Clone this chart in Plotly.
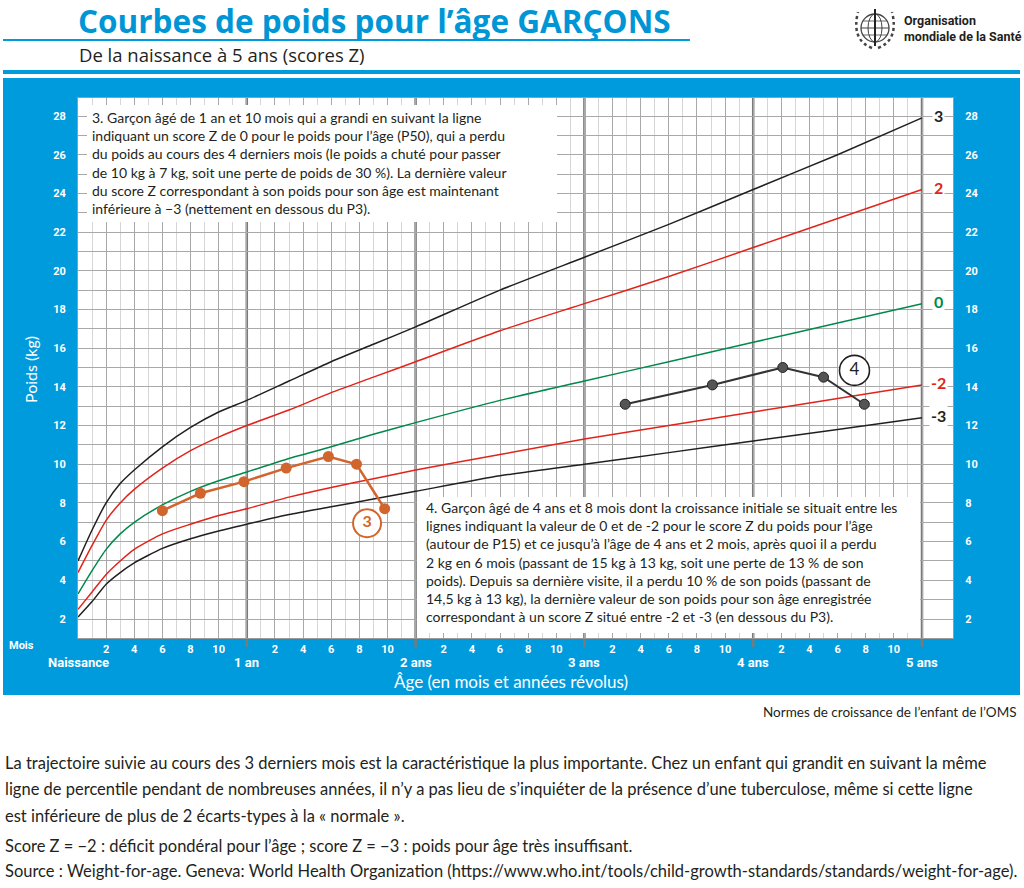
import plotly.graph_objects as go

# ---------------- data ----------------
months = [0, 1, 2, 3, 4, 6, 8, 10, 12, 15, 18, 21, 24, 30, 36, 42, 48, 54, 60]
z_m3 = [2.1, 2.9, 3.8, 4.4, 4.9, 5.65, 6.15, 6.55, 6.9, 7.4, 7.8, 8.2, 8.6, 9.4, 10.0, 10.6, 11.2, 11.8, 12.4]
z_m2 = [2.5, 3.4, 4.3, 5.0, 5.6, 6.4, 6.9, 7.35, 7.7, 8.3, 8.8, 9.25, 9.7, 10.5, 11.3, 12.0, 12.7, 13.4, 14.1]
z_0 = [3.3, 4.5, 5.6, 6.4, 7.0, 7.9, 8.6, 9.15, 9.6, 10.3, 10.9, 11.55, 12.15, 13.3, 14.3, 15.3, 16.3, 17.3, 18.3]
z_p2 = [4.4, 5.8, 7.1, 8.0, 8.7, 9.8, 10.7, 11.4, 12.0, 12.8, 13.7, 14.5, 15.3, 16.9, 18.3, 19.7, 21.2, 22.7, 24.2]
z_p3 = [5.0, 6.6, 8.0, 9.0, 9.7, 10.9, 11.9, 12.7, 13.3, 14.3, 15.3, 16.2, 17.1, 19.0, 20.7, 22.4, 24.2, 26.0, 27.9]
z_names = ["3", "2", "0", "-2", "-3"]

child3_age = [6, 8.7, 11.8, 14.8, 17.8, 19.8, 21.8]
child3_wt = [7.6, 8.5, 9.1, 9.8, 10.4, 10.0, 7.7]
child4_age = [38.9, 45.1, 50.1, 53.0, 55.9]
child4_wt = [13.1, 14.1, 15.0, 14.5, 13.1]

case_labels = ["3", "4"]
case_label_age = [20.55, 55.2]
case_label_wt = [6.95, 14.85]

year_vals = [0, 12, 24, 36, 48, 60]
year_text = ["Naissance", "1 an", "2 ans", "3 ans", "4 ans", "5 ans"]
month_tick_vals = list(range(0, 61, 2))
month_tick_text = ["" if m % 12 == 0 else str(m % 12) for m in month_tick_vals]
kg_tick_vals = list(range(2, 29, 2))
kg_tick_text = [str(v) for v in kg_tick_vals]

# ---------------- styling ----------------
BLUE = "#009BDD"
RED = "#E2231A"
GREEN = "#00894A"
BLACK = "#231F20"
ORANGE = "#D2652D"
DARK = "#333333"
BODY = "Lato, 'Open Sans', sans-serif"
NARROW = "'Liberation Sans Narrow', 'Arial Narrow', Roboto, sans-serif"

L, R, T, B = 78, 953, 98, 638
W, H = R - L, B - T
PX_PER_MONTH = (922 - 78) / 60.0
PX_PER_KG = (619 - 116) / 26.0


def px(x):
    return (x - L) / W


def py(y):
    return (B - y) / H


def dx(xp):
    return (xp - L) / PX_PER_MONTH


def dy(yp):
    return 28 - (yp - 116) / PX_PER_KG


x_range = [0, (R - L) / PX_PER_MONTH]
y_range = [dy(B), dy(T)]

fig = go.Figure()

curve_sets = [(z_p3, BLACK), (z_p2, RED), (z_0, GREEN), (z_m2, RED), (z_m3, BLACK)]
for i, (vals, col) in enumerate(curve_sets):
    fig.add_trace(go.Scatter(
        x=months, y=vals, mode="lines",
        line=dict(color=col, width=1.5, shape="spline", smoothing=0.6),
        yaxis="y2" if i == 0 else "y", hoverinfo="skip"))

fig.add_trace(go.Scatter(
    x=child3_age, y=child3_wt, mode="lines+markers",
    line=dict(color=ORANGE, width=2.5),
    marker=dict(color=ORANGE, size=11)))
fig.add_trace(go.Scatter(
    x=child4_age, y=child4_wt, mode="lines+markers",
    line=dict(color=DARK, width=2),
    marker=dict(color="#555555", size=10, line=dict(color="#222222", width=1))))

fig.add_trace(go.Scatter(
    x=case_label_age[:1], y=case_label_wt[:1], mode="markers+text",
    text=case_labels[:1], textposition="middle center",
    textfont=dict(family=BODY, size=16, color=ORANGE, weight="bold"),
    marker=dict(symbol="circle", size=28, color="white", line=dict(color=ORANGE, width=2))))
fig.add_trace(go.Scatter(
    x=case_label_age[1:], y=case_label_wt[1:], mode="markers+text",
    text=case_labels[1:], textposition="middle center",
    textfont=dict(family=BODY, size=17, color=BLACK),
    marker=dict(symbol="circle", size=30, color="white", line=dict(color=BLACK, width=1.6))))

shapes = []
# blue panel and white plot area
shapes.append(dict(type="rect", xref="paper", yref="paper", layer="below",
                   x0=px(3), x1=px(1020), y0=py(695), y1=py(78),
                   fillcolor=BLUE, line=dict(width=0)))
shapes.append(dict(type="rect", xref="paper", yref="paper", layer="below",
                   x0=0, x1=1, y0=0, y1=1, fillcolor="white", line=dict(width=0)))
# header rules
shapes.append(dict(type="line", xref="paper", yref="paper",
                   x0=px(3), x1=px(690), y0=py(40), y1=py(40),
                   line=dict(color=BLUE, width=2)))
shapes.append(dict(type="line", xref="paper", yref="paper",
                   x0=px(3), x1=px(1020), y0=py(72), y1=py(72),
                   line=dict(color=BLUE, width=4)))
# year lines
for yv in year_vals[1:]:
    shapes.append(dict(type="line", xref="x", yref="paper", layer="between",
                       x0=yv, x1=yv, y0=py(647), y1=1,
                       line=dict(color="#7A7A7A", width=2.5)))
# white text boxes (drawn over the grid, under the curves)
shapes.append(dict(type="rect", xref="x", yref="y", layer="between",
                   x0=dx(87), x1=dx(557), y0=dy(222), y1=dy(105),
                   fillcolor="white", line=dict(width=0)))
shapes.append(dict(type="rect", xref="x", yref="y", layer="between",
                   x0=dx(417), x1=dx(920), y0=dy(633), y1=dy(497),
                   fillcolor="white", line=dict(width=0)))
# WHO emblem (simplified globe, staff and laurels)
EMB = "#444444"
shapes.append(dict(type="circle", xref="paper", yref="paper",
                   x0=px(861), x1=px(889), y0=py(42), y1=py(14),
                   line=dict(color=EMB, width=1.3)))
shapes.append(dict(type="circle", xref="paper", yref="paper",
                   x0=px(868), x1=px(882), y0=py(42), y1=py(14),
                   line=dict(color=EMB, width=1)))
shapes.append(dict(type="line", xref="paper", yref="paper",
                   x0=px(861), x1=px(889), y0=py(28), y1=py(28),
                   line=dict(color=EMB, width=1)))
shapes.append(dict(type="line", xref="paper", yref="paper",
                   x0=px(863), x1=px(887), y0=py(21), y1=py(21),
                   line=dict(color=EMB, width=0.8)))
shapes.append(dict(type="line", xref="paper", yref="paper",
                   x0=px(863), x1=px(887), y0=py(35), y1=py(35),
                   line=dict(color=EMB, width=0.8)))
shapes.append(dict(type="line", xref="paper", yref="paper",
                   x0=px(875), x1=px(875), y0=py(46), y1=py(9),
                   line=dict(color="#222222", width=2)))
for side in (-1, 1):
    shapes.append(dict(type="path", xref="paper", yref="paper",
                       path="M %.5f %.5f Q %.5f %.5f %.5f %.5f" % (
                           px(875 + side * 3), py(48),
                           px(875 + side * 24), py(40),
                           px(875 + side * 17), py(12)),
                       line=dict(color=EMB, width=2.5, dash="dot")))

ann = []
# z-score labels at right
z_end = [z_p3[-1], z_p2[-1], z_0[-1], z_m2[-1], z_m3[-1]]
z_cols = [BLACK, RED, GREEN, RED, BLACK]
for name, yv, col in zip(z_names, z_end, z_cols):
    ann.append(dict(x=61.2, y=yv, xref="x", yref="y", text=name, showarrow=False,
                    font=dict(family=BODY, size=16, color=col, weight="bold"),
                    bgcolor="white", yshift=2, xanchor="center"))
# year labels
for yv, tx in zip(year_vals, year_text):
    ann.append(dict(x=yv, y=py(662), xref="x", yref="paper", text=tx, showarrow=False,
                    font=dict(family=NARROW, size=13, color="white", weight="bold"),
                    xanchor="center", yanchor="middle"))

box3 = ("3. Garçon âgé de 1 an et 10 mois qui a grandi en suivant la ligne<br>"
        "indiquant un score Z de 0 pour le poids pour l’âge (P50), qui a perdu<br>"
        "du poids au cours des 4 derniers mois (le poids a chuté pour passer<br>"
        "de 10 kg à 7 kg, soit une perte de poids de 30 %). La dernière valeur<br>"
        "du score Z correspondant à son poids pour son âge est maintenant<br>"
        "inférieure à −3 (nettement en dessous du P3).")
box4 = ("4. Garçon âgé de 4 ans et 8 mois dont la croissance initiale se situait entre les<br>"
        "lignes indiquant la valeur de 0 et de -2 pour le score Z du poids pour l’âge<br>"
        "(autour de P15) et ce jusqu’à l’âge de 4 ans et 2 mois, après quoi il a perdu<br>"
        "2 kg en 6 mois (passant de 15 kg à 13 kg, soit une perte de 13 % de son<br>"
        "poids). Depuis sa dernière visite, il a perdu 10 % de son poids (passant de<br>"
        "14,5 kg à 13 kg), la dernière valeur de son poids pour son âge enregistrée<br>"
        "correspondant à un score Z situé entre -2 et -3 (en dessous du P3).")
ann.append(dict(x=px(90), y=py(107), xref="paper", yref="paper", text=box3, showarrow=False,
                align="left", xanchor="left", yanchor="top",
                font=dict(family=BODY, size=14, color=BLACK)))
ann.append(dict(x=px(424), y=py(497), xref="paper", yref="paper", text=box4, showarrow=False,
                align="left", xanchor="left", yanchor="top",
                font=dict(family=BODY, size=14, color=BLACK)))

# axis texts
ann.append(dict(x=px(21), y=py(645), xref="paper", yref="paper", text="Mois", showarrow=False,
                font=dict(family=NARROW, size=11, color="white", weight="bold"),
                xanchor="center", yanchor="middle"))
ann.append(dict(x=px(30), y=py(370), xref="paper", yref="paper", text="Poids (kg)", showarrow=False,
                textangle=-90, font=dict(family=BODY, size=16, color="white"),
                xanchor="center", yanchor="middle"))
ann.append(dict(x=px(511), y=py(681), xref="paper", yref="paper",
                text="Âge (en mois et années révolus)", showarrow=False,
                font=dict(family=BODY, size=17, color="white"),
                xanchor="center", yanchor="middle"))

# header texts
ann.append(dict(x=px(76), y=py(20), xref="paper", yref="paper",
                text="Courbes de poids pour l’âge GARÇONS", showarrow=False,
                font=dict(family="'Open Sans', sans-serif", size=31.5, color="#0096D6", weight="bold"),
                xanchor="left", yanchor="middle"))
ann.append(dict(x=px(77), y=py(55), xref="paper", yref="paper",
                text="De la naissance à 5 ans (scores Z)", showarrow=False,
                font=dict(family="'Open Sans', sans-serif", size=18.5, color=BLACK),
                xanchor="left", yanchor="middle"))
ann.append(dict(x=px(902), y=py(28), xref="paper", yref="paper",
                text="Organisation<br>mondiale de la Santé", showarrow=False, align="left",
                font=dict(family=NARROW, size=12.5, color=BLACK, weight="bold"),
                xanchor="left", yanchor="middle"))

# footer texts
ann.append(dict(x=px(1019), y=py(712), xref="paper", yref="paper",
                text="Normes de croissance de l’enfant de l’OMS", showarrow=False,
                font=dict(family=BODY, size=13.5, color=BLACK),
                xanchor="right", yanchor="middle"))
foot_lines = [
    ("La trajectoire suivie au cours des 3 derniers mois est la caractéristique la plus importante. "
     "Chez un enfant qui grandit en suivant la même", 763),
    ("ligne de percentile pendant de nombreuses années, il n’y a pas lieu de s’inquiéter de la présence "
     "d’une tuberculose, même si cette ligne", 789),
    ("est inférieure de plus de 2 écarts-types à la « normale ».", 816),
    ("Score Z = −2 : déficit pondéral pour l’âge ; score Z = −3 : poids pour âge très insuffisant.", 846),
    ("Source : Weight-for-age. Geneva: World Health Organization "
     "(https://www.who.int/tools/child-growth-standards/standards/weight-for-age).", 871),
]
for tx, yy in foot_lines:
    ann.append(dict(x=px(3), y=py(yy), xref="paper", yref="paper", text=tx, showarrow=False,
                    font=dict(family=BODY, size=16.5, color=BLACK),
                    xanchor="left", yanchor="middle"))

tickfont = dict(family=NARROW, size=11, color="white", weight="bold")
fig.update_layout(
    width=1024, height=888, autosize=False,
    margin=dict(l=L, r=1024 - R, t=T, b=888 - B, pad=0),
    paper_bgcolor="white", plot_bgcolor="white", showlegend=False,
    xaxis=dict(range=x_range, tickmode="array", tickvals=month_tick_vals, ticktext=month_tick_text,
               showgrid=True, gridcolor="#A8A8A8", gridwidth=1, zeroline=False,
               ticks="outside", ticklen=1, tickcolor=BLUE, tickfont=tickfont,
               showline=True, linecolor="#9A9A9A", linewidth=1, mirror=True,
               minor=dict(tickmode="array", tickvals=list(range(1, 60, 2)), showgrid=True,
                          gridcolor="#D6D6D6", gridwidth=1, ticks="")),
    yaxis=dict(range=y_range, tickmode="array", tickvals=kg_tick_vals, ticktext=kg_tick_text,
               showgrid=True, gridcolor="#A8A8A8", gridwidth=1, zeroline=False,
               ticks="outside", ticklen=9, tickcolor=BLUE, tickfont=tickfont,
               showline=True, linecolor="#9A9A9A", linewidth=1, mirror=True,
               minor=dict(tickmode="array", tickvals=list(range(3, 29, 2)), showgrid=True,
                          gridcolor="#A8A8A8", gridwidth=1, ticks="")),
    yaxis2=dict(overlaying="y", side="right", matches="y", tickmode="array",
                tickvals=kg_tick_vals, ticktext=kg_tick_text, showgrid=False, zeroline=False,
                ticks="outside", ticklen=9, tickcolor=BLUE, tickfont=tickfont, showline=False),
    shapes=shapes, annotations=ann,
)

fig.write_html("out.html", config={"displayModeBar": False},
               post_script="document.body.style.margin='0';")
